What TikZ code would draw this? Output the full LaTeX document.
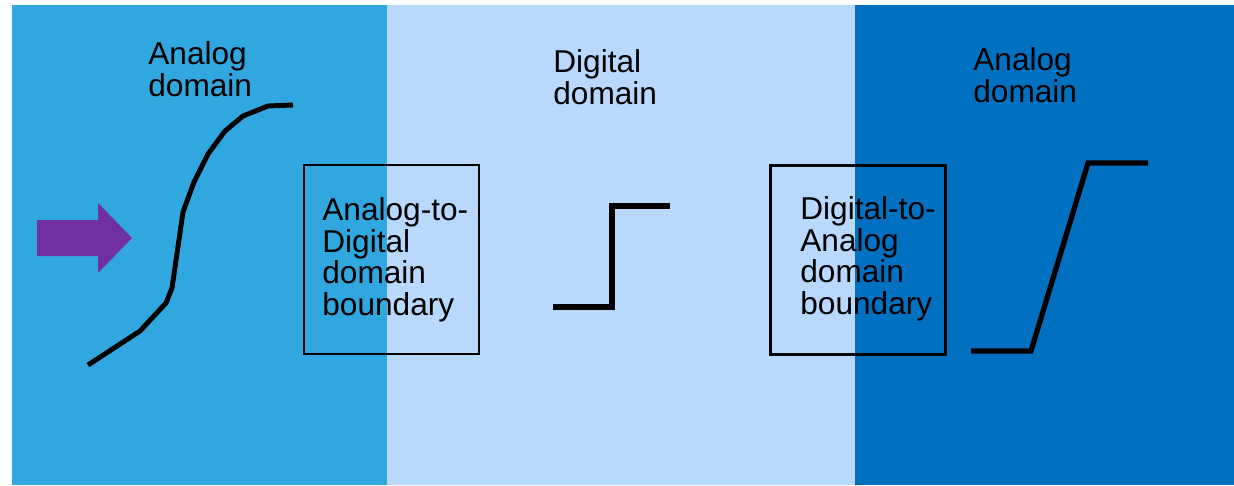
\documentclass[tikz,border=0pt]{standalone}
\usepackage{fontspec}
\setmainfont{Liberation Sans}
\definecolor{analogblue}{HTML}{31A7DF}
\definecolor{digitalblue}{HTML}{B8D9FD}
\definecolor{outblue}{HTML}{0070C0}
\definecolor{arrowpurple}{HTML}{7030A0}
\tikzset{
	domaintext/.style={anchor=north west, inner sep=0pt, align=left, font=\fontsize{18}{18.1}\selectfont},
	signal/.style={line width=2.8pt, line join=round},
	stepline/.style={line width=3pt, line join=miter},
	boundarybox/.style={draw, line width=1.3pt, minimum width=3.5cm, minimum height=3.78cm, inner sep=0pt}
}

\begin{document}
\begin{tikzpicture}[x=0.02cm, y=-0.02cm]
		%%%%% START %%%%%
		\useasboundingbox (0, 0) rectangle (1234, 485);
		
		% the three domains
		\fill[analogblue] (12, 5) rectangle (387, 485);
		\fill[digitalblue] (387, 5) rectangle (855, 485);
		\fill[outblue] (855, 5) rectangle (1234, 485);
		
		% input arrow
		\fill[arrowpurple] (37, 220) -- (98, 220) -- (98, 203) -- (132, 238) -- (98, 273) -- (98, 256) -- (37, 256) -- cycle;
		
		% analog input signal
		\draw[signal] (88, 365) -- (140, 331) -- (166, 303) -- (172, 288) -- (183, 212) -- (194, 182)
			-- (208, 154) -- (225, 131) -- (243, 116) -- (268, 106) -- (293, 105);
		
		% sampled level
		\draw[stepline] (553, 307) -- (612, 307) -- (612, 206) -- (670, 206);
		
		% reconstructed output
		\draw[stepline] (971, 351) -- (1031, 351) -- (1088, 163) -- (1148, 163);
		
		% boundaries
		\node[boundarybox] (adc) at (391.5, 259.5) {};
		\node[boundarybox] (dac) at (858, 260) {};
		
		\node[domaintext] (adclabel) at (322, 197) {Analog-to-\\Digital\\domain\\boundary};
		\node[domaintext] (daclabel) at (800, 196) {Digital-to-\\Analog\\domain\\boundary};
		
		% domain titles
		\node[domaintext] (inlabel) at (148, 41) {Analog\\domain};
		\node[domaintext] (diglabel) at (553, 49) {Digital\\domain};
		\node[domaintext] (outlabel) at (973, 47) {Analog\\domain};
		
		%%%%% END %%%%%
	\end{tikzpicture}
\end{document}
